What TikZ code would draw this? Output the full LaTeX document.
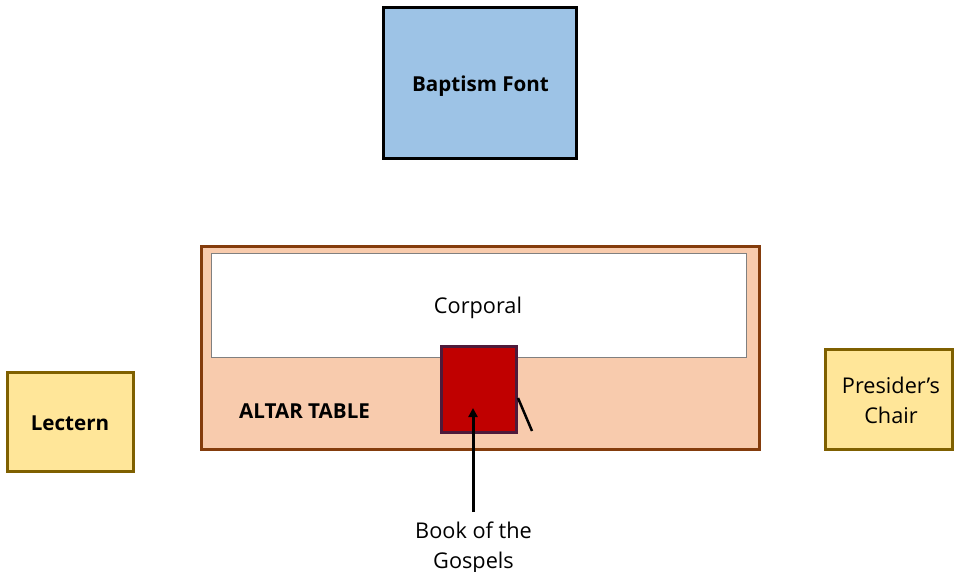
\documentclass[tikz,border=0pt]{standalone}
\usepackage{fontspec}
\setmainfont{Open Sans}
\usetikzlibrary{arrows.meta}
\definecolor{fontblue}{HTML}{9DC3E6}
\definecolor{altarfill}{HTML}{F8CBAD}
\definecolor{altardraw}{HTML}{843C0C}
\definecolor{bookred}{HTML}{C00000}
\definecolor{bookdraw}{HTML}{4E1A3A}
\definecolor{yfill}{HTML}{FFE699}
\definecolor{ydraw}{HTML}{7F6000}
\tikzset{
  box/.style={rectangle, inner sep=0pt, line width=3pt, align=center},
  lbl/.style={font=\fontsize{21.7}{30}\selectfont, align=center, inner sep=0pt},
  blbl/.style={font=\fontsize{20.6}{24}\selectfont\bfseries, align=center, inner sep=0pt},
}
\begin{document}
\begin{tikzpicture}[x=1pt,y=-1pt]
\useasboundingbox (0,0) rectangle (960,572);
\node[box, draw=black, fill=fontblue, minimum width=193pt, minimum height=151pt] (font) at (479.5,83.5) {};
\node[blbl] (fontlbl) at (480.5,86) {Baptism Font};
\node[box, draw=altardraw, fill=altarfill, minimum width=558pt, minimum height=203pt] (altar) at (480,347.5) {};
\node[rectangle, draw=gray, line width=0.8pt, fill=white, minimum width=535pt, minimum height=104pt, inner sep=0pt] (corporal) at (478.5,305) {};
\node[lbl] (corplbl) at (478,308) {Corporal};
\node[blbl] (altarlbl) at (304.5,411) {ALTAR TABLE};
\node[box, draw=bookdraw, fill=bookred, minimum width=75pt, minimum height=86pt] (book) at (478.5,389) {};
\coordinate (tabA) at (518,398);
\coordinate (tabB) at (532,431);
\draw[line width=2.5pt] (tabA) -- (tabB);
\node[lbl] (booklbl) at (473.5,547.5) {Book of the\\Gospels};
\coordinate (arrowtip) at (473,408);
\draw[line width=3pt, -{Triangle[length=9pt,width=9pt]}] (473,512) -- (arrowtip);
\node[box, draw=ydraw, fill=yfill, minimum width=126pt, minimum height=99pt] (lectern) at (70,421.5) {};
\node[blbl] (lectlbl) at (70,423) {Lectern};
\node[box, draw=ydraw, fill=yfill, minimum width=127pt, minimum height=100pt] (chair) at (888.5,399) {};
\node[lbl] (chairlbl) at (891,400) {Presider’s\\Chair};
\end{tikzpicture}
\end{document}
